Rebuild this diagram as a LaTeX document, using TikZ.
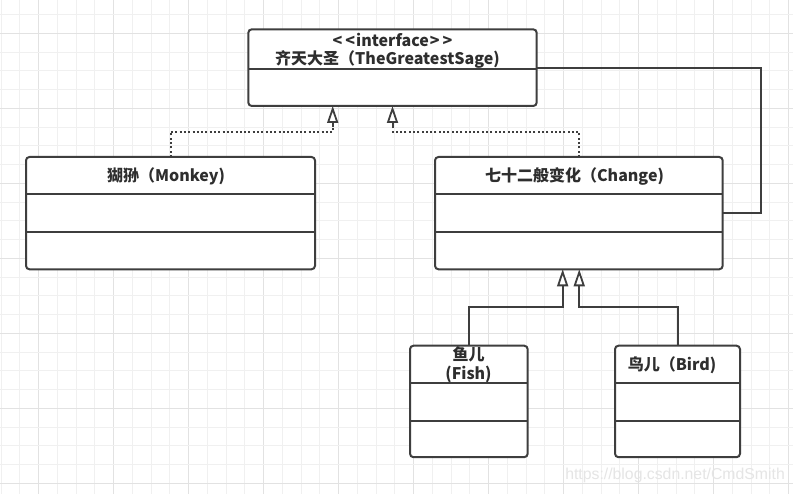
\documentclass[tikz,border=0pt]{standalone}
\usepackage{fontspec}
\setmainfont{Noto Sans CJK SC}
\newfontfamily\wmfont{Liberation Sans}
\usetikzlibrary{arrows.meta,calc}
\definecolor{lc}{HTML}{3E3E3E}
\definecolor{tc}{HTML}{2E2E2E}
\definecolor{gmin}{HTML}{F0F0F0}
\definecolor{gmaj}{HTML}{E2E2E2}
\begin{document}
\begin{tikzpicture}[x=1pt,y=-1pt,
  cls/.style={draw=lc, line width=2pt, rounded corners=3.5pt, fill=white, outer sep=0pt, inner sep=0pt, anchor=north west},
  div/.style={draw=lc, line width=2pt},
  lbl/.style={text=tc, font=\fontsize{16}{19}\selectfont\bfseries, inner sep=0pt},
  conn/.style={draw=lc, line width=2pt},
  dotc/.style={draw=lc, line width=2pt, dash pattern=on 2pt off 2.3pt},
  gen/.style={-{Triangle[fill=white, length=17pt, width=11pt, line width=1.8pt]}},
]
\useasboundingbox (0,0) rectangle (793,494);
\fill[white] (0,0) rectangle (793,494);
% grid
\foreach \i in {0,...,42}{
  \pgfmathtruncatemacro{\m}{mod(\i,4)}
  \ifnum\m=2 \draw[gmaj, line width=1pt] ({1.2+18.75*\i},0) -- ({1.2+18.75*\i},494);
  \else \draw[gmin, line width=1pt] ({1.2+18.75*\i},0) -- ({1.2+18.75*\i},494); \fi
}
\foreach \j in {0,...,26}{
  \pgfmathtruncatemacro{\m}{mod(\j,4)}
  \ifnum\m=1 \draw[gmaj, line width=1pt] (0,{14.6+18.75*\j}) -- (793,{14.6+18.75*\j});
  \else \draw[gmin, line width=1pt] (0,{14.6+18.75*\j}) -- (793,{14.6+18.75*\j}); \fi
}
% boxes
\node[cls, minimum width=288.4, minimum height=76.7] (sage) at (248.3,29.3) {};
\draw[div] (248.3,69.3) -- (536.7,69.3);
\node[lbl] (sagest) at (392.5,40) {<\kern3pt<\kern1pt interface\kern1pt>\kern3pt>};
\node[lbl] (sagenm) at (387.5,59.3) {齐天大圣（TheGreatestSage)};

\node[cls, minimum width=289, minimum height=112.3] (monkey) at (26,157) {};
\draw[div] (26,194) -- (315,194);
\draw[div] (26,231.7) -- (315,231.7);
\node[lbl] (monkeynm) at (166,176.5) {猢狲（Monkey)};

\node[cls, minimum width=287.7, minimum height=112.3] (change) at (435,157) {};
\draw[div] (435,194) -- (722.7,194);
\draw[div] (435,231.7) -- (722.7,231.7);
\node[lbl] (changenm) at (574.5,176.5) {七十二般变化（Change)};

\node[cls, minimum width=117.7, minimum height=111.5] (fish) at (410,345.7) {};
\draw[div] (410,383.3) -- (527.7,383.3);
\draw[div] (410,421) -- (527.7,421);
\node[lbl, align=center] (fishnm) at (468.5,364.5) {鱼儿\\(Fish)};

\node[cls, minimum width=125, minimum height=111.5] (bird) at (615,345.7) {};
\draw[div] (615,383.3) -- (740,383.3);
\draw[div] (615,421) -- (740,421);
\node[lbl] (birdnm) at (672,365) {鸟儿（Bird)};

% connectors
\coordinate (m1) at ($(monkey.north)+(0,-25.3)$);
\coordinate (sa) at ([xshift=-59.8pt]sage.south);
\draw[dotc] (monkey.north) -- (m1) -- (m1 -| sa) -- ($(sa)+(0,21)$);
\draw[conn, gen] ($(sa)+(0,21)$) -- (sa);
\coordinate (c1) at ($(change.north)+(0,-25.3)$);
\coordinate (sb) at (sage.south);
\draw[dotc] (change.north) -- (c1) -- (c1 -| sb) -- ($(sb)+(0,21)$);
\draw[conn, gen] ($(sb)+(0,21)$) -- (sb);

\draw[conn] (sage.east) -| ($(change.east)+(38,0)$) -- (change.east);

\coordinate (fa) at ([xshift=-16.2pt]change.south);
\coordinate (fb) at ([xshift=0.4pt]change.south);
\draw[conn, gen] (fish.north) |- ($(fa)+(0,38)$) -- (fa);
\draw[conn, gen] (bird.north) |- ($(fb)+(0,38)$) -- (fb);

% watermark
\node[text=black!10, font=\wmfont\fontsize{15.8}{18}\selectfont, inner sep=0pt, anchor=east] (wm) at (785,475) {https://blog.csdn.net/CmdSmith};
\end{tikzpicture}
\end{document}
